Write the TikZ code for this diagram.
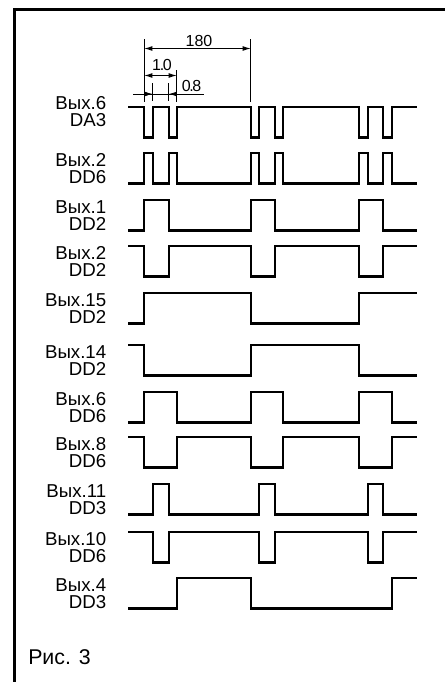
\documentclass[tikz,border=0pt]{standalone}
\usepackage{fontspec}
\setmainfont{Liberation Sans}
\usetikzlibrary{arrows.meta}
\def\wXs{128.3}\def\wXe{416.7}\def\wlo{30.5}
\def\wAi{144.3}\def\wBi{152.7}\def\wCi{168.7}\def\wDi{176.7}
\def\wAii{250.7}\def\wBii{259.3}\def\wCii{275.3}\def\wDii{283.3}
\def\wAiii{359}\def\wBiii{367.7}\def\wCiii{383.3}\def\wDiii{391.7}
\begin{document}
\begin{tikzpicture}[x=0.75pt,y=-0.75pt,
  wave/.style={line width=1.75pt},
  dimline/.style={line width=0.6pt},
  dimarr/.style={dimline,{Latex[length=6pt,width=3.6pt]}-{Latex[length=6pt,width=3.6pt]}},
  onearr/.style={dimline,-{Latex[length=6pt,width=3.6pt]}},
  lbl/.style={anchor=base east,inner sep=0pt,text depth=0pt,font=\fontsize{14}{16}\selectfont},
  dimtxt/.style={anchor=base,inner sep=0pt,text depth=0pt,font=\fontsize{12}{14}\selectfont},
  frame/.style={line width=2pt}]
\useasboundingbox (0,0) rectangle (444,682);
% frame (left and top edges)
\coordinate (fbl) at (14.7,682);
\coordinate (ftl) at (14.7,9.7);
\coordinate (ftr) at (446,9.7);
\draw[frame] (fbl) -- (ftl) -- (ftr);
% dimension lines
\coordinate (e1t) at (\wAi,39);  \coordinate (e1b) at (\wAi,102);
\coordinate (e2t) at (\wAii,39); \coordinate (e2b) at (\wAii,102);
\coordinate (e3t) at (\wDi,70);  \coordinate (e3b) at (\wDi,102);
\coordinate (t1t) at (\wBi,83);  \coordinate (t1b) at (\wBi,101);
\coordinate (t2t) at (\wCi,83);  \coordinate (t2b) at (\wCi,101);
\draw[dimline] (e1t) -- (e1b) (e2t) -- (e2b) (e3t) -- (e3b) (t1t) -- (t1b) (t2t) -- (t2b);
\coordinate (d180a) at (\wAi,48.5); \coordinate (d180b) at (\wAii,48.5);
\draw[dimarr] (d180a) -- (d180b);
\node[dimtxt] (n180) at (199,46.5) {180};
\coordinate (d10a) at (\wAi,75.5); \coordinate (d10b) at (\wDi,75.5);
\draw[dimarr] (d10a) -- (d10b);
\node[dimtxt] (n10) at (162,70) {1\kern-1pt.\kern-1pt0};
\coordinate (d08l) at (133.3,94); \coordinate (d08r) at (204,94);
\coordinate (d08a) at (\wBi,94); \coordinate (d08b) at (\wCi,94);
\draw[dimline] (d08l) -- (d08r);
\draw[onearr] (d08l) -- (d08a);
\draw[onearr] (181,94) -- (d08b);
\node[dimtxt,anchor=base west] (n08) at (181.5,91.5) {0\kern-1pt.\kern-1pt8};
% labels
\node[lbl] (l1a) at (106.5,109.5) {Вых.6};
\node[lbl] (l1b) at (106.5,126.5) {DA3};
\foreach \H/\na/\nb/\nm in {153/Вых.2/DD6/2, 200/Вых.1/DD2/3, 246/Вых.2/DD2/4, 293/Вых.15/DD2/5, 345/Вых.14/DD2/6, 392/Вых.6/DD6/7, 437/Вых.8/DD6/8, 484/Вых.11/DD3/9, 532/Вых.10/DD6/10, 578/Вых.4/DD3/11}{
  \node[lbl] (l\nm a) at (106.5,\H+13.3) {\na};
  \node[lbl] (l\nm b) at (106.5,\H+30) {\nb};
}
% waveforms
\begin{scope}[shift={(0,107)}]
\draw[wave] (\wXs,0) -| (\wAi,\wlo) -| (\wBi,0) -| (\wCi,\wlo) -| (\wDi,0) -| (\wAii,\wlo) -| (\wBii,0) -| (\wCii,\wlo) -| (\wDii,0) -| (\wAiii,\wlo) -| (\wBiii,0) -| (\wCiii,\wlo) -| (\wDiii,0) -- (\wXe,0);
\end{scope}
\begin{scope}[shift={(0,153)}]
\draw[wave] (\wXs,\wlo) -| (\wAi,0) -| (\wBi,\wlo) -| (\wCi,0) -| (\wDi,\wlo) -| (\wAii,0) -| (\wBii,\wlo) -| (\wCii,0) -| (\wDii,\wlo) -| (\wAiii,0) -| (\wBiii,\wlo) -| (\wCiii,0) -| (\wDiii,\wlo) -- (\wXe,\wlo);
\end{scope}
\begin{scope}[shift={(0,200)}]
\draw[wave] (\wXs,\wlo) -| (\wAi,0) -| (\wCi,\wlo) -| (\wAii,0) -| (\wCii,\wlo) -| (\wAiii,0) -| (\wCiii,\wlo) -- (\wXe,\wlo);
\end{scope}
\begin{scope}[shift={(0,246)}]
\draw[wave] (\wXs,0) -| (\wAi,\wlo) -| (\wCi,0) -| (\wAii,\wlo) -| (\wCii,0) -| (\wAiii,\wlo) -| (\wCiii,0) -- (\wXe,0);
\end{scope}
\begin{scope}[shift={(0,293)}]
\draw[wave] (\wXs,\wlo) -| (\wAi,0) -| (\wAii,\wlo) -| (\wAiii,0) -- (\wXe,0);
\end{scope}
\begin{scope}[shift={(0,345)}]
\draw[wave] (\wXs,0) -| (\wAi,\wlo) -| (\wAii,0) -| (\wAiii,\wlo) -- (\wXe,\wlo);
\end{scope}
\begin{scope}[shift={(0,392)}]
\draw[wave] (\wXs,\wlo) -| (\wAi,0) -| (\wDi,\wlo) -| (\wAii,0) -| (\wDii,\wlo) -| (\wAiii,0) -| (\wDiii,\wlo) -- (\wXe,\wlo);
\end{scope}
\begin{scope}[shift={(0,437)}]
\draw[wave] (\wXs,0) -| (\wAi,\wlo) -| (\wDi,0) -| (\wAii,\wlo) -| (\wDii,0) -| (\wAiii,\wlo) -| (\wDiii,0) -- (\wXe,0);
\end{scope}
\begin{scope}[shift={(0,484)}]
\draw[wave] (\wXs,\wlo) -| (\wBi,0) -| (\wCi,\wlo) -| (\wBii,0) -| (\wCii,\wlo) -| (\wBiii,0) -| (\wCiii,\wlo) -- (\wXe,\wlo);
\end{scope}
\begin{scope}[shift={(0,532)}]
\draw[wave] (\wXs,0) -| (\wBi,\wlo) -| (\wCi,0) -| (\wBii,\wlo) -| (\wCii,0) -| (\wBiii,\wlo) -| (\wCiii,0) -- (\wXe,0);
\end{scope}
\begin{scope}[shift={(0,578)}]
\draw[wave] (\wXs,\wlo) -| (\wDi,0) -| (\wAii,\wlo) -| (\wDiii,0) -- (\wXe,0);
\end{scope}
% caption
\node[anchor=base west,inner sep=0pt,text depth=0pt,font=\fontsize{16}{18}\selectfont] (cap) at (28,664) {Рис. 3};
\end{tikzpicture}
\end{document}
